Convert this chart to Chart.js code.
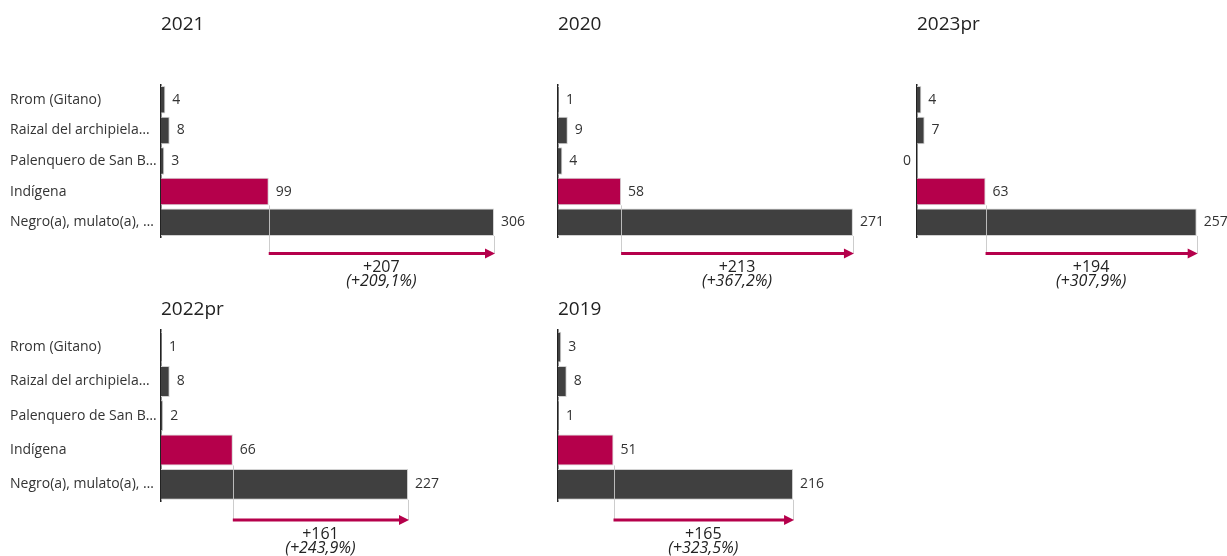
<!DOCTYPE html>
<html>
<head>
<meta charset="utf-8">
<script src="https://cdn.jsdelivr.net/npm/chart.js@4"></script>
<style>
  html, body { margin: 0; padding: 0; background: #fff; }
  body { position: relative; width: 1227px; height: 556px; overflow: hidden; }
  canvas { position: absolute; }
</style>
</head>
<body>
<script>
// Data
const categories = ['Rrom (Gitano)', 'Raizal del archipiela…', 'Palenquero de San B…', 'Indígena', 'Negro(a), mulato(a), …'];
const years = ['2021', '2020', '2023pr', '2022pr', '2019'];
const values2021 = [4, 8, 3, 99, 306];
const values2020 = [1, 9, 4, 58, 271];
const values2023pr = [4, 7, 0, 63, 257];
const values2022pr = [1, 8, 2, 66, 227];
const values2019 = [3, 8, 1, 51, 216];
const seriesByYear = [values2021, values2020, values2023pr, values2022pr, values2019];

// Styles and layout
const FONT = "'Open Sans', 'Noto Sans', sans-serif";
const DARK = '#404040';
const CRIMSON = '#B5004B';
const HIGHLIGHT = 3;      // Indígena
const COMPARE = 4;        // Negro(a), mulato(a)...
const X_MAX = 340;
const AREA_W = 370;
const LABEL_W = 151;
const CANVAS_W = 10 + LABEL_W + AREA_W + 45;

const rows = [
  { top: 0, height: 295, areaTop: 84.5, areaH: 153, titleY: 25, arrowDy: 16, t1Dy: 30, t2Dy: 44 },
  { top: 290, height: 266, areaTop: 40, areaH: 171.5, titleY: 20, arrowDy: 18.5, t1Dy: 33, t2Dy: 47 }
];
const panelPos = [
  { axisX: 161, row: 0, labels: true },
  { axisX: 558, row: 0, labels: false },
  { axisX: 917, row: 0, labels: false },
  { axisX: 161, row: 1, labels: true },
  { axisX: 558, row: 1, labels: false }
];

// Title, value labels and the difference arrow
const panelDecor = {
  id: 'panelDecor',
  afterDatasetsDraw(chart, args, opts) {
    const ctx = chart.ctx;
    const area = chart.chartArea;
    const xs = chart.scales.x;
    const values = chart.data.datasets[0].data;
    const bars = chart.getDatasetMeta(0).data;

    ctx.save();
    // title
    ctx.font = `19px ${FONT}`;
    ctx.fillStyle = '#222';
    ctx.textAlign = 'left';
    ctx.textBaseline = 'middle';
    ctx.fillText(opts.title, area.left, opts.titleY);

    // value labels
    ctx.font = `14px ${FONT}`;
    ctx.fillStyle = '#333';
    bars.forEach((bar, i) => {
      const v = values[i];
      if (v === 0) {
        ctx.textAlign = 'right';
        ctx.fillText(String(v), bar.base - 6, bar.y);
      } else {
        ctx.textAlign = 'left';
        ctx.fillText(String(v), bar.x + 7, bar.y);
      }
    });

    // guide lines + arrow
    const hi = bars[HIGHLIGHT];
    const cmp = bars[COMPARE];
    const x1 = xs.getPixelForValue(values[HIGHLIGHT]);
    const x2 = xs.getPixelForValue(values[COMPARE]);
    const arrowY = area.bottom + opts.arrowDy;

    ctx.strokeStyle = 'rgba(200,200,200,0.9)';
    ctx.lineWidth = 1;
    ctx.beginPath();
    ctx.moveTo(Math.round(x1) + 0.5, hi.y + hi.height / 2);
    ctx.lineTo(Math.round(x1) + 0.5, arrowY);
    ctx.moveTo(Math.round(x2) + 0.5, cmp.y + cmp.height / 2);
    ctx.lineTo(Math.round(x2) + 0.5, arrowY);
    ctx.stroke();

    ctx.strokeStyle = CRIMSON;
    ctx.fillStyle = CRIMSON;
    ctx.lineWidth = 3;
    ctx.beginPath();
    ctx.moveTo(x1, arrowY);
    ctx.lineTo(x2 - 8, arrowY);
    ctx.stroke();
    ctx.beginPath();
    ctx.moveTo(x2 + 1, arrowY);
    ctx.lineTo(x2 - 9, arrowY - 5);
    ctx.lineTo(x2 - 9, arrowY + 5);
    ctx.closePath();
    ctx.fill();

    // difference text
    const diff = values[COMPARE] - values[HIGHLIGHT];
    const pct = (diff / values[HIGHLIGHT] * 100).toFixed(1).replace('.', ',');
    const cx = (x1 + x2) / 2;
    ctx.fillStyle = '#222';
    ctx.textAlign = 'center';
    ctx.font = `16px ${FONT}`;
    ctx.fillText((diff >= 0 ? '+' : '') + diff, cx, area.bottom + opts.t1Dy);
    ctx.font = `italic 16px ${FONT}`;
    ctx.fillText(`(${diff >= 0 ? '+' : ''}${pct}%)`, cx, area.bottom + opts.t2Dy);
    ctx.restore();
  }
};

function buildPanel(year, values, pos) {
  const row = rows[pos.row];
  const canvas = document.createElement('canvas');
  canvas.width = CANVAS_W;
  canvas.height = row.height;
  canvas.style.left = (pos.axisX - 10 - LABEL_W) + 'px';
  canvas.style.top = row.top + 'px';
  canvas.style.width = CANVAS_W + 'px';
  canvas.style.height = row.height + 'px';
  document.body.appendChild(canvas);

  return new Chart(canvas, {
    type: 'bar',
    data: {
      labels: categories,
      datasets: [{
        data: values,
        backgroundColor: values.map((v, i) => i === HIGHLIGHT ? CRIMSON : DARK),
        borderColor: '#d2d2d2',
        borderWidth: 1,
        barPercentage: 0.9,
        categoryPercentage: 1
      }]
    },
    options: {
      indexAxis: 'y',
      responsive: false,
      animation: false,
      devicePixelRatio: 1,
      layout: {
        padding: {
          left: 10,
          right: CANVAS_W - 10 - LABEL_W - AREA_W,
          top: row.areaTop,
          bottom: row.height - row.areaTop - row.areaH
        }
      },
      scales: {
        x: { display: false, min: 0, max: X_MAX },
        y: {
          afterFit: scale => { scale.width = LABEL_W; },
          grid: { display: false },
          border: { display: true, color: '#222', width: 1.5 },
          ticks: {
            display: pos.labels,
            crossAlign: 'far',
            color: '#333',
            font: { family: FONT, size: 14 }
          }
        }
      },
      plugins: {
        legend: { display: false },
        tooltip: { enabled: false },
        panelDecor: {
          title: year,
          titleY: row.titleY,
          arrowDy: row.arrowDy,
          t1Dy: row.t1Dy,
          t2Dy: row.t2Dy
        }
      }
    },
    plugins: [panelDecor]
  });
}

years.forEach((year, i) => buildPanel(year, seriesByYear[i], panelPos[i]));
</script>
</body>
</html>
